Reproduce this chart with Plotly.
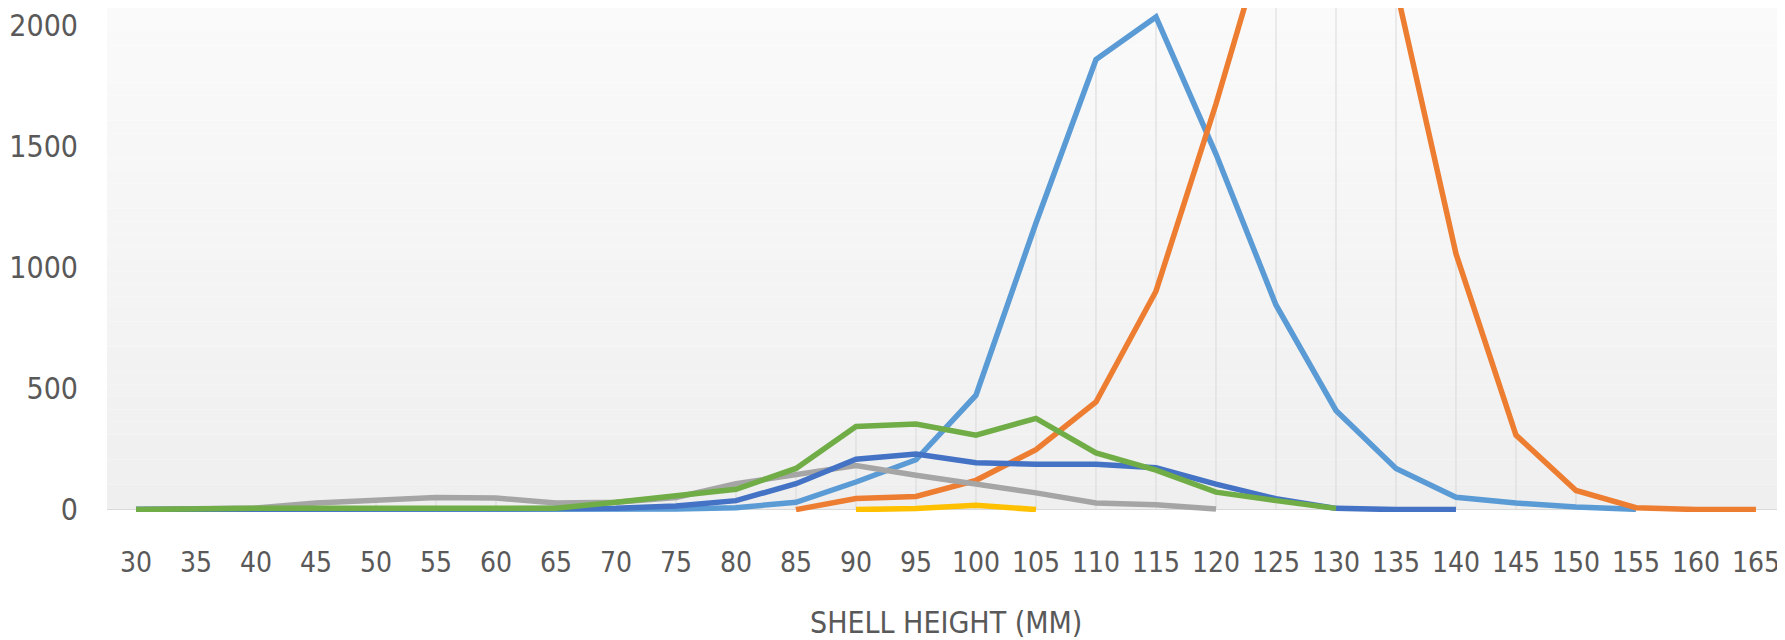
import plotly.graph_objects as go

categories = [30, 35, 40, 45, 50, 55, 60, 65, 70, 75, 80, 85, 90, 95, 100, 105,
              110, 115, 120, 125, 130, 135, 140, 145, 150, 155, 160, 165]

s1_light_blue = [0, 0, 0, 0, 0, 0, 0, 0, 0, 2, 8, 30, 114, 206, 473, 1185,
                 1861, 2037, 1470, 846, 410, 170, 51, 27, 11, 1, None, None]
s2_orange = [None, None, None, None, None, None, None, None, None, None, None, 0, 46, 54, 121, 248,
             445, 903, 1677, 2520, 2800, 2160, 1058, 308, 79, 8, 0, 0]
s3_gray = [0, 3, 7, 27, 41, 50, 48, 27, 30, 50, 107, 142, 182, 142, 107, 69,
           27, 20, 2, None, None, None, None, None, None, None, None, None]
s4_yellow = [None, None, None, None, None, None, None, None, None, None, None, None, 0, 4, 18, 0,
             None, None, None, None, None, None, None, None, None, None, None, None]
s5_dark_blue = [0, 0, 0, 0, 0, 0, 0, 0, 5, 15, 37, 107, 208, 230, 194, 187,
                187, 173, 105, 45, 5, 0, 0, None, None, None, None, None]
s6_green = [0, 5, 6, 6, 6, 6, 6, 6, 30, 55, 84, 170, 344, 354, 308, 377,
            234, 163, 72, 37, 5, None, None, None, None, None, None, None]

series = [
    (s1_light_blue, "#5B9BD5"),
    (s2_orange, "#ED7D31"),
    (s3_gray, "#A5A5A5"),
    (s4_yellow, "#FFC000"),
    (s5_dark_blue, "#4472C4"),
    (s6_green, "#70AD47"),
]

y_ticks = [0, 500, 1000, 1500, 2000]
x_title = "SHELL HEIGHT (MM)"

FONT = "DejaVu Sans Condensed, Liberation Sans Narrow, sans-serif"
TXT = "#595959"
Y_TOP = 2074
Y_BOT = -10

W, H = 1777, 632   # page body has an 8px margin
fig = go.Figure()

# drop lines (from the highest series value in each category down to the axis)
dx, dy = [], []
for i, c in enumerate(categories):
    vals = [s[i] for s, _ in series if s[i] is not None]
    if vals:
        dx += [c, c, None]
        dy += [0, max(vals), None]
fig.add_trace(go.Scatter(x=dx, y=dy, mode="lines", line=dict(color="#d9d9d9", width=1),
                         hoverinfo="skip", showlegend=False))

for vals, col in series:
    fig.add_trace(go.Scatter(x=categories, y=vals, mode="lines",
                             line=dict(color=col, width=5.5), showlegend=False,
                             connectgaps=False))

# plot-area background gradient
n = 40
shapes = []
for k in range(n):
    t = k / (n - 1)
    v = round(239 + (250 - 239) * t)
    y0 = Y_TOP * k / n
    y1 = Y_TOP * (k + 1) / n
    shapes.append(dict(type="rect", xref="paper", yref="y", x0=0, x1=1, y0=y0, y1=y1,
                       fillcolor=f"rgb({v},{v},{v})", line=dict(width=0), layer="below"))

fig.update_layout(
    width=W, height=H,
    margin=dict(l=99, r=0, t=0, b=128, autoexpand=False),
    paper_bgcolor="white", plot_bgcolor="white",
    shapes=shapes,
    font=dict(family=FONT, color=TXT, size=30),
    xaxis=dict(range=[27.583, 167.42], tickmode="array", tickvals=categories,
               ticktext=[str(c) for c in categories], showgrid=False, zeroline=False,
               showline=False, ticks="outside", ticklen=25, tickcolor="rgba(0,0,0,0)",
               tickangle=0, automargin=False,
               tickfont=dict(family=FONT, size=28, color=TXT)),
    yaxis=dict(range=[Y_BOT, Y_TOP], tickmode="array", tickvals=y_ticks,
               showgrid=False, zeroline=True, zerolinecolor="#d9d9d9", zerolinewidth=1,
               showline=False, ticks="outside", ticklen=22, tickcolor="rgba(0,0,0,0)",
               automargin=False, ticklabeloverflow="allow",
               tickfont=dict(family=FONT, size=30, color=TXT)),
    annotations=[dict(text=x_title, xref="paper", yref="paper", x=0.5,
                      y=-(614 - 504) / 504,
                      xanchor="center", yanchor="middle", showarrow=False,
                      font=dict(family=FONT, size=30, color=TXT))],
)

fig.write_html("out.html")
